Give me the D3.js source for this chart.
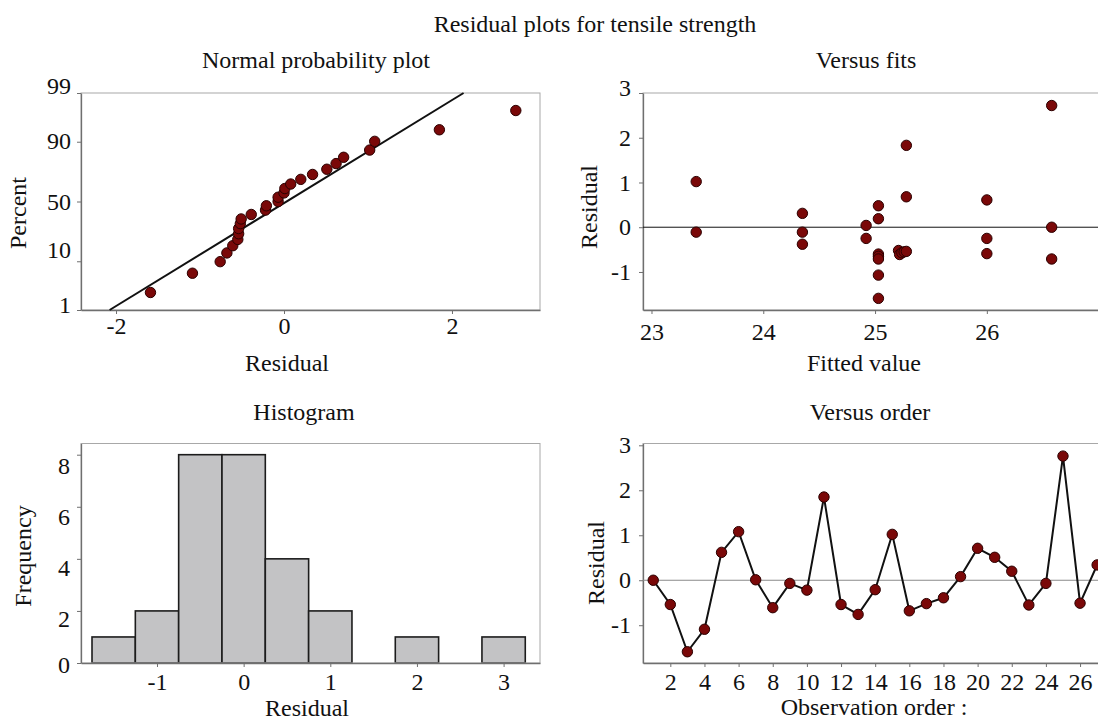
<!DOCTYPE html>
<html>
<head>
<meta charset="utf-8">
<script src="https://cdn.jsdelivr.net/npm/d3@7"></script>
<style>
    body { margin: 0; background: #fff; }
    text { font-family: "Liberation Serif", "Times New Roman", serif; fill: #111; }
</style>
</head>
<body>
<svg id="chart" width="1098" height="722"></svg>
<script>
'use strict';

// residuals in observation order
const residuals = [0.00, -0.54, -1.59, -1.09, 0.62, 1.08, 0.01, -0.61, -0.07, -0.22,
    1.85, -0.54, -0.76, -0.21, 1.02, -0.68, -0.52, -0.39, 0.08, 0.71,
    0.51, 0.20, -0.55, -0.07, 2.76, -0.51, 0.34];

// versus fits
const fittedValues = [23.40, 23.40, 24.35, 24.35, 24.35, 24.92, 24.92, 25.03, 25.03, 25.03,
    25.03, 25.03, 25.03, 25.03, 25.21, 25.22, 25.24, 25.26, 25.28, 25.28,
    25.28, 26.00, 26.00, 26.00, 26.58, 26.58, 26.58];
const fittedResiduals = [1.02, -0.11, 0.31, -0.11, -0.38, 0.04, -0.25, 0.48, 0.19, -0.60,
    -0.65, -0.71, -1.07, -1.59, -0.52, -0.61, -0.57, -0.55, 1.83, 0.68,
    -0.54, 0.61, -0.25, -0.59, 2.72, 0.00, -0.71];

// histogram
const histMids = [-1.5, -1, -0.5, 0, 0.5, 1, 1.5, 2, 2.5, 3];
const histCounts = [1, 2, 8, 8, 4, 2, 0, 1, 0, 1];
const binWidth = 0.5;

// tick labels
const percentTicks = [1, 10, 50, 90, 99];
const nppXTicks = [-2, 0, 2];
const residTicks = [-1, 0, 1, 2, 3];
const fitTicks = [23, 24, 25, 26];
const freqTicks = [0, 2, 4, 6, 8];
const histXTicks = [-1, 0, 1, 2, 3];
const orderTicks = [2, 4, 6, 8, 10, 12, 14, 16, 18, 20, 22, 24, 26];

const svg = d3.select('#chart');
const FONT = 24;
const POINT_FILL = '#7a0808';
const POINT_STROKE = '#2b0000';
const plain = (d) => String(d);

// inverse normal cdf (Acklam)
function probit(p) {
    const a = [-3.969683028665376e+01, 2.209460984245205e+02, -2.759285104469687e+02, 1.383577518672690e+02, -3.066479806614716e+01, 2.506628277459239e+00];
    const b = [-5.447609879822406e+01, 1.615858368580409e+02, -1.556989798598866e+02, 6.680131188771972e+01, -1.328068155288572e+01];
    const c = [-7.784894002430293e-03, -3.223964580411365e-01, -2.400758277161838e+00, -2.549732539343734e+00, 4.374664141464968e+00, 2.938163982641285e+00];
    const d = [7.784695709041462e-03, 3.224671290700398e-01, 2.445134137142996e+00, 3.754408661907416e+00];
    const pl = 0.02425;
    let q, r;
    if (p < pl) {
        q = Math.sqrt(-2 * Math.log(p));
        return (((((c[0] * q + c[1]) * q + c[2]) * q + c[3]) * q + c[4]) * q + c[5]) / ((((d[0] * q + d[1]) * q + d[2]) * q + d[3]) * q + 1);
    }
    if (p > 1 - pl) {
        q = Math.sqrt(-2 * Math.log(1 - p));
        return -(((((c[0] * q + c[1]) * q + c[2]) * q + c[3]) * q + c[4]) * q + c[5]) / ((((d[0] * q + d[1]) * q + d[2]) * q + d[3]) * q + 1);
    }
    q = p - 0.5;
    r = q * q;
    return (((((a[0] * r + a[1]) * r + a[2]) * r + a[3]) * r + a[4]) * r + a[5]) * q / (((((b[0] * r + b[1]) * r + b[2]) * r + b[3]) * r + b[4]) * r + 1);
}

/**
 * Frame + axes + texts for one panel
 */
function drawFrame(p, x, y, opts) {
    const g = svg.append('g');

    g.append('rect')
        .attr('x', p.left).attr('y', p.top)
        .attr('width', p.right - p.left).attr('height', p.bottom - p.top)
        .attr('fill', 'none').attr('stroke', '#a8a8a8').attr('stroke-width', 1);

    const xAxis = d3.axisBottom(x).tickValues(opts.xTicks).tickSize(4)
        .tickPadding(opts.xPad).tickSizeOuter(0).tickFormat(opts.xFormat || plain);
    const gx = g.append('g').attr('transform', `translate(0,${p.bottom})`).call(xAxis);

    const yAxis = d3.axisLeft(y).tickValues(opts.yTicks).tickSize(4)
        .tickPadding(opts.yPad).tickSizeOuter(0).tickFormat(opts.yFormat || plain);
    const gy = g.append('g').attr('transform', `translate(${p.left},0)`).call(yAxis);

    [gx, gy].forEach((a) => {
        a.select('.domain').attr('stroke', '#6f6f6f').attr('stroke-width', 1.3);
        a.selectAll('.tick line').attr('stroke', '#6f6f6f');
        a.selectAll('text').attr('font-size', FONT)
            .attr('font-family', '"Liberation Serif", serif').attr('fill', '#111');
    });
    if (opts.yShift) {
        gy.selectAll('.tick text').attr('transform', (d, i) => `translate(0,${opts.yShift[i]})`);
    }

    svg.append('text').attr('x', opts.titleX).attr('y', opts.titleY)
        .attr('text-anchor', 'middle').attr('font-size', FONT).text(opts.title);
    svg.append('text').attr('x', opts.xLabelX).attr('y', opts.xLabelY)
        .attr('text-anchor', 'middle').attr('font-size', FONT).text(opts.xLabel);
    svg.append('text')
        .attr('transform', `translate(${opts.yLabelX},${opts.yLabelY}) rotate(-90)`)
        .attr('text-anchor', 'middle').attr('dominant-baseline', 'central')
        .attr('font-size', FONT).text(opts.yLabel);
}

function dots(sel, data, x, y) {
    sel.selectAll('circle').data(data).enter().append('circle')
        .attr('cx', (d) => x(d[0])).attr('cy', (d) => y(d[1])).attr('r', 5.2)
        .attr('fill', POINT_FILL).attr('stroke', POINT_STROKE).attr('stroke-width', 1);
}

svg.append('text').attr('x', 595).attr('y', 32).attr('text-anchor', 'middle')
    .attr('font-size', FONT).text('Residual plots for tensile strength');

// ---- Normal probability plot
(function () {
    const p = {left: 81, right: 540, top: 93, bottom: 310};
    const x = d3.scaleLinear().domain([-2.417, 3.048]).range([p.left, p.right]);
    const y = d3.scaleLinear().domain([probit(0.01), probit(0.99)]).range([p.bottom, p.top]);

    drawFrame(p, x, y, {
        xTicks: nppXTicks, xPad: 3,
        yTicks: percentTicks.map((v) => probit(v / 100)), yPad: 6,
        yFormat: (d, i) => percentTicks[i],
        yShift: [-5, -11, 0, -1, -7],
        title: 'Normal probability plot', titleX: 316, titleY: 68,
        xLabel: 'Residual', xLabelX: 287, xLabelY: 371,
        yLabel: 'Percent', yLabelX: 18, yLabelY: 213
    });

    const n = residuals.length;
    const mean = d3.mean(residuals);
    const sd = d3.deviation(residuals);
    const sorted = residuals.slice().sort(d3.ascending);
    const pts = sorted.map((r, i) => [r, probit((i + 1 - 0.3) / (n + 0.4))]);

    const zEnds = [probit(0.01), probit(0.99)];
    svg.append('line')
        .attr('x1', x(mean + sd * zEnds[0])).attr('y1', y(zEnds[0]))
        .attr('x2', x(mean + sd * zEnds[1])).attr('y2', y(zEnds[1]))
        .attr('stroke', '#111').attr('stroke-width', 2);

    dots(svg.append('g'), pts, x, y);
})();

// ---- Versus fits
(function () {
    const p = {left: 643, right: 1106, top: 93, bottom: 310};
    const x = d3.scaleLinear().domain([22.924, 27.066]).range([p.left, p.right]);
    const y = d3.scaleLinear().domain([-1.85, 3]).range([p.bottom, p.top]);

    drawFrame(p, x, y, {
        xTicks: fitTicks, xPad: 9,
        yTicks: residTicks, yPad: 8,
        yShift: [0, 0, 0, 0, -5],
        title: 'Versus fits', titleX: 866, titleY: 68,
        xLabel: 'Fitted value', xLabelX: 864, xLabelY: 371,
        yLabel: 'Residual', yLabelX: 589, yLabelY: 207
    });

    svg.append('line').attr('x1', p.left).attr('x2', p.right)
        .attr('y1', y(0)).attr('y2', y(0)).attr('stroke', '#111').attr('stroke-width', 1);

    dots(svg.append('g'), fittedValues.map((f, i) => [f, fittedResiduals[i]]), x, y);
})();

// ---- Histogram
(function () {
    const p = {left: 81, right: 540, top: 443.5, bottom: 663};
    const x = d3.scaleLinear().domain([-1.877, 3.42]).range([p.left, p.right]);
    const y = d3.scaleLinear().domain([0, 8.43]).range([p.bottom, p.top]);

    svg.append('g').selectAll('rect')
        .data(histMids.map((m, i) => ({m, c: histCounts[i]})).filter((d) => d.c > 0))
        .enter().append('rect')
        .attr('x', (d) => x(d.m - binWidth / 2))
        .attr('y', (d) => y(d.c))
        .attr('width', (d) => x(d.m + binWidth / 2) - x(d.m - binWidth / 2))
        .attr('height', (d) => y(0) - y(d.c))
        .attr('fill', '#c3c3c5').attr('stroke', '#1c1c1c').attr('stroke-width', 1.6);

    drawFrame(p, x, y, {
        xTicks: histXTicks, xPad: 6,
        yTicks: freqTicks, yPad: 7,
        yShift: [2, 8, 9, 10, 11],
        title: 'Histogram', titleX: 304, titleY: 420,
        xLabel: 'Residual', xLabelX: 307, xLabelY: 716,
        yLabel: 'Frequency', yLabelX: 23, yLabelY: 556
    });
})();

// ---- Versus order
(function () {
    const p = {left: 643, right: 1106, top: 443.5, bottom: 663};
    const x = d3.scaleLinear().domain([0.4, 27.52]).range([p.left, p.right]);
    const y = d3.scaleLinear().domain([-1.84, 3.04]).range([p.bottom, p.top]);

    drawFrame(p, x, y, {
        xTicks: orderTicks, xPad: 6,
        yTicks: residTicks, yPad: 8,
        title: 'Versus order', titleX: 870, titleY: 420,
        xLabel: 'Observation order :', xLabelX: 874, xLabelY: 715,
        yLabel: 'Residual', yLabelX: 596, yLabelY: 563
    });

    svg.append('line').attr('x1', p.left).attr('x2', p.right)
        .attr('y1', y(0)).attr('y2', y(0)).attr('stroke', '#8a8a8a').attr('stroke-width', 1.2);

    const pts = residuals.map((r, i) => [i + 1, r]);
    svg.append('path').datum(pts)
        .attr('d', d3.line().x((d) => x(d[0])).y((d) => y(d[1])))
        .attr('fill', 'none').attr('stroke', '#111').attr('stroke-width', 2);

    dots(svg.append('g'), pts, x, y);
})();
</script>
</body>
</html>
